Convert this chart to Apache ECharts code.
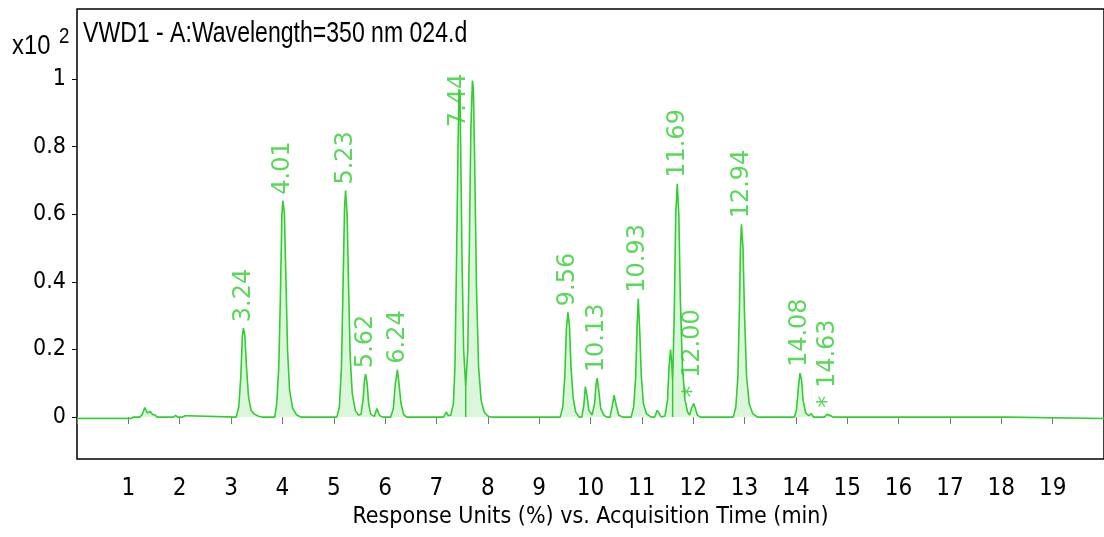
<!DOCTYPE html>
<html>
<head>
<meta charset="utf-8">
<script src="https://cdn.jsdelivr.net/npm/echarts@6/dist/echarts.min.js"></script>
<style>
html,body{margin:0;padding:0;background:#fff;}
#chart{width:1104px;height:537px;}
</style>
</head>
<body>
<div id="chart"></div>
<script>
// ---- Data: [time (min), response (x10^2 %)] ----
const trace = [
  [0,-0.004],[0.5,-0.004],[1.05,-0.004],[1.1,0],[1.22,0],[1.27,0.008],[1.32,0.028],[1.37,0.012],[1.42,0.017],[1.47,0.008],[1.52,0.006],[1.56,0],
  [1.88,0],[1.92,0.005],[1.96,0],[2.06,0],[2.1,0.004],[2.17,0.004],[2.2,0],
  [3.10,0],[3.15,0.03],[3.19,0.12],[3.22,0.24],[3.24,0.263],[3.27,0.24],[3.30,0.15],[3.34,0.06],[3.39,0.02],[3.46,0.008],[3.55,0.002],[3.6,0],
  [3.85,0],[3.89,0.04],[3.93,0.15],[3.96,0.35],[3.99,0.6],[4.01,0.64],[4.04,0.6],[4.07,0.4],[4.10,0.2],[4.14,0.08],[4.20,0.025],[4.28,0.006],[4.36,0],
  [5.06,0],[5.11,0.03],[5.15,0.15],[5.18,0.38],[5.21,0.62],[5.23,0.67],[5.26,0.6],[5.29,0.38],[5.32,0.18],[5.36,0.07],[5.42,0.02],[5.48,0.006],
  [5.53,0.008],[5.57,0.05],[5.60,0.11],[5.62,0.127],[5.65,0.1],[5.68,0.04],[5.72,0.008],[5.79,0.002],[5.84,0.025],[5.89,0.005],[5.95,0],
  [6.11,0],[6.16,0.025],[6.20,0.1],[6.24,0.14],[6.27,0.1],[6.31,0.04],[6.36,0.008],[6.42,0],
  [7.14,0],[7.19,0.015],[7.23,0.004],[7.28,0.006],[7.33,0.04],[7.36,0.15],[7.39,0.45],[7.42,0.8],[7.44,0.97],[7.46,0.94],[7.48,0.7],[7.50,0.45],[7.53,0.2],[7.57,0.09],
  [7.61,0.2],[7.64,0.5],[7.67,0.85],[7.70,0.995],[7.72,0.97],[7.75,0.7],[7.78,0.38],[7.82,0.15],[7.87,0.05],[7.93,0.015],[8.0,0.003],[8.06,0],
  [9.41,0],[9.46,0.03],[9.50,0.12],[9.53,0.26],[9.56,0.31],[9.59,0.27],[9.62,0.15],[9.66,0.06],[9.71,0.015],[9.78,0],
  [9.83,0],[9.87,0.035],[9.90,0.09],[9.93,0.065],[9.97,0.02],[10.03,0.006],[10.08,0.04],[10.11,0.1],[10.13,0.115],[10.16,0.08],[10.20,0.025],[10.26,0.006],[10.32,0],
  [10.38,0],[10.42,0.03],[10.46,0.065],[10.50,0.035],[10.55,0.006],[10.62,0],
  [10.79,0],[10.84,0.03],[10.88,0.12],[10.91,0.28],[10.93,0.35],[10.96,0.25],[10.99,0.12],[11.03,0.04],[11.09,0.01],[11.18,0],
  [11.25,0],[11.30,0.02],[11.34,0.01],[11.38,0],
  [11.45,0.003],[11.50,0.05],[11.53,0.15],[11.56,0.2],[11.58,0.16],[11.60,0.11],[11.63,0.3],[11.66,0.6],[11.69,0.69],[11.72,0.6],[11.75,0.35],[11.79,0.15],[11.84,0.05],[11.89,0.015],
  [11.93,0.006],[11.97,0.028],[12.01,0.04],[12.04,0.027],[12.08,0.006],[12.14,0],
  [12.78,0],[12.83,0.03],[12.87,0.12],[12.90,0.32],[12.92,0.5],[12.94,0.57],[12.97,0.5],[13.00,0.3],[13.04,0.12],[13.09,0.04],[13.16,0.01],[13.25,0],
  [13.97,0],[14.01,0.02],[14.05,0.09],[14.08,0.13],[14.11,0.11],[14.14,0.05],[14.19,0.012],[14.25,0.004],[14.30,0.01],[14.34,0],
  [14.56,0],[14.60,0.008],[14.63,0.01],[14.68,0.004],[14.72,0],
  [18.12,0],[18.13,-0.004],[20,-0.004]
];

const peakTimes   = [3.24, 4.01, 5.23, 5.62, 6.24, 7.44, 9.56, 10.13, 10.93, 11.69, 12.00, 12.94, 14.08, 14.63];
const peakHeights = [0.263,0.64,0.67,0.127,0.14,0.97,0.31,0.115,0.35,0.69,0.04,0.57,0.13,0.01];
const peakLabels  = ['3.24','4.01','5.23','5.62','6.24','7.44','9.56','10.13','10.93','11.69','* 12.00','12.94','14.08','* 14.63'];

const dropTimes   = [7.57, 11.60];
const dropHeights = [0.09, 0.11];

const xTicks = [0,1,2,3,4,5,6,7,8,9,10,11,12,13,14,15,16,17,18,19];
const yTicks = [0,0.2,0.4,0.6,0.8,1];

const titleText = 'VWD1 - A:Wavelength=350 nm 024.d';
const xAxisTitle = 'Response Units (%) vs. Acquisition Time (min)';

// ---- Styling ----
const GREEN = '#32cd32';
const AXFONT = "'DejaVu Sans Condensed',sans-serif";
const NARROW = "'Liberation Sans',Arial,sans-serif";
const LBFONT = "'DejaVu Sans',sans-serif";

const labelData = peakTimes.map((t, i) => {
  const item = { value: [t, peakHeights[i]], name: peakLabels[i] };
  if (peakLabels[i] === '7.44') item.label = { offset: [-44, 0] };
  return item;
});
const dropSeries = dropTimes.map((t, i) => ({
  type: 'line', data: [[t, 0], [t, dropHeights[i]]], symbol: 'none', silent: true,
  lineStyle: { color: GREEN, width: 1.5 }, z: 3
}));

const chart = echarts.init(document.getElementById('chart'), null, { renderer: 'canvas' });
chart.setOption({
  animation: false,
  backgroundColor: '#fff',
  grid: { left: 77, right: -4, top: 9, bottom: 78, show: true, borderColor: '#000', borderWidth: 1.5, backgroundColor: 'transparent' },
  xAxis: {
    type: 'value', min: 0, max: 20, interval: 1, offset: 3,
    axisLine: { show: false },
    axisTick: { show: true, length: 7, lineStyle: { color: '#777', width: 1 }, customValues: xTicks },
    axisLabel: { customValues: xTicks.filter(v => v > 0), color: '#000', fontFamily: AXFONT, fontSize: 24, margin: 15,
      formatter: v => String(v) },
    splitLine: { show: false },
    name: xAxisTitle, nameLocation: 'middle', nameGap: 42,
    nameTextStyle: { color: '#000', fontFamily: AXFONT, fontSize: 23 }
  },
  yAxis: {
    type: 'value', min: -0.124, max: 1.207,
    axisLine: { show: false },
    axisTick: { show: true, length: 5, inside: false, lineStyle: { color: '#000', width: 1 }, customValues: yTicks },
    axisLabel: { customValues: yTicks, color: '#000', fontFamily: AXFONT, fontSize: 23, margin: 11,
      formatter: v => (Math.round(v * 10) / 10).toString() },
    splitLine: { show: false }
  },
  graphic: [
    { type: 'text', x: 83, y: 19, scaleX: 0.795, style: { text: titleText, fill: '#000', font: "29px " + NARROW, textVerticalAlign: 'top' } },
    { type: 'text', x: 12, y: 32, scaleX: 0.85, style: { text: 'x10', fill: '#000', font: "28px " + NARROW, textVerticalAlign: 'top' } },
    { type: 'text', x: 59, y: 26, scaleX: 0.85, style: { text: '2', fill: '#000', font: "22px " + NARROW, textVerticalAlign: 'top' } }
  ],
  series: [
    {
      type: 'line', data: trace, symbol: 'none', silent: true,
      lineStyle: { color: GREEN, width: 1.6 },
      areaStyle: { color: 'rgba(50,205,50,0.25)', origin: 0 },
      z: 3
    },
    ...dropSeries,
    {
      type: 'scatter', data: labelData, symbolSize: 0, silent: true, z: 5,
      label: {
        show: true, position: 'top', distance: 6, rotate: 90, align: 'left', verticalAlign: 'middle',
        formatter: p => p.name, color: GREEN, fontFamily: LBFONT, fontSize: 24
      }
    }
  ]
});
</script>
</body>
</html>
